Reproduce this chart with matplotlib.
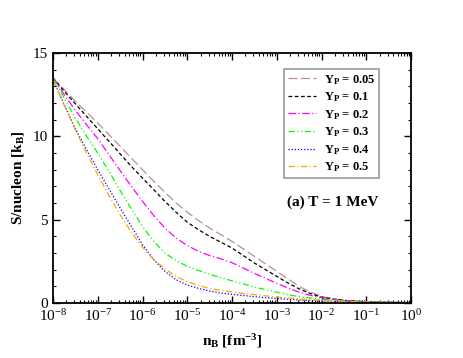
import matplotlib
matplotlib.use('Agg')
import matplotlib.pyplot as plt
from matplotlib.ticker import LogLocator, MultipleLocator, NullFormatter

# baryon density grid [fm^-3], quarter decades
n_B = [1e-8, 1.78e-8, 3.16e-8, 5.62e-8,
       1e-7, 1.78e-7, 3.16e-7, 5.62e-7,
       1e-6, 1.78e-6, 3.16e-6, 5.62e-6,
       1e-5, 1.78e-5, 3.16e-5, 5.62e-5,
       1e-4, 1.78e-4, 3.16e-4, 5.62e-4,
       1e-3, 1.78e-3, 3.16e-3, 5.62e-3,
       1e-2, 1.78e-2, 3.16e-2, 5.62e-2,
       1e-1, 1.78e-1, 3.16e-1, 5.62e-1, 1.0]

# entropy per nucleon [k_B] for each proton fraction
s_005 = [13.5, 12.8, 12.1, 11.45, 10.8, 10.1, 9.4, 8.7, 8.0, 7.3, 6.65, 6.0,
         5.45, 4.95, 4.5, 4.1, 3.7, 3.25, 2.8, 2.35, 1.9, 1.45, 1.0, 0.65,
         0.4, 0.26, 0.17, 0.12, 0.08, 0.06, 0.04, 0.03, 0.02]
s_01 = [13.5, 12.7, 11.95, 11.2, 10.45, 9.7, 8.95, 8.2, 7.5, 6.8, 6.1, 5.45,
        4.85, 4.4, 4.0, 3.65, 3.3, 2.85, 2.4, 2.0, 1.6, 1.2, 0.85, 0.57,
        0.35, 0.24, 0.16, 0.11, 0.08, 0.06, 0.04, 0.03, 0.02]
s_02 = [13.5, 12.5, 11.55, 10.7, 9.85, 8.9, 7.95, 7.0, 6.1, 5.25, 4.5, 3.9,
        3.45, 3.1, 2.85, 2.65, 2.42, 2.1, 1.78, 1.48, 1.18, 0.9, 0.65, 0.46,
        0.32, 0.22, 0.15, 0.1, 0.07, 0.05, 0.04, 0.03, 0.02]
s_03 = [13.5, 12.3, 11.1, 10.0, 9.0, 7.9, 6.75, 5.65, 4.6, 3.7, 3.0, 2.55,
        2.2, 1.95, 1.72, 1.52, 1.33, 1.15, 0.97, 0.8, 0.65, 0.5, 0.38, 0.3,
        0.23, 0.17, 0.13, 0.09, 0.07, 0.05, 0.04, 0.03, 0.02]
s_04 = [13.4, 11.9, 10.45, 9.2, 8.0, 6.85, 5.7, 4.6, 3.5, 2.6, 1.9, 1.4,
        1.08, 0.88, 0.72, 0.6, 0.52, 0.45, 0.38, 0.32, 0.27, 0.22, 0.18, 0.15,
        0.12, 0.1, 0.08, 0.06, 0.05, 0.04, 0.03, 0.025, 0.02]
s_05 = [13.4, 11.85, 10.4, 9.0, 7.7, 6.45, 5.3, 4.25, 3.35, 2.6, 2.05, 1.6,
        1.28, 1.05, 0.88, 0.76, 0.66, 0.58, 0.5, 0.43, 0.36, 0.3, 0.25, 0.2,
        0.16, 0.12, 0.1, 0.08, 0.06, 0.05, 0.04, 0.03, 0.02]

yp_labels = ['0.05', '0.1', '0.2', '0.3', '0.4', '0.5']

plt.rcParams['font.family'] = ['Liberation Serif', 'DejaVu Serif']
plt.rcParams['mathtext.fontset'] = 'custom'
plt.rcParams['mathtext.rm'] = 'Liberation Serif'
plt.rcParams['mathtext.bf'] = 'Liberation Serif:bold'
plt.rcParams['mathtext.it'] = 'Liberation Serif:italic'

fig = plt.figure(figsize=(4.63, 3.58), dpi=100)
ax = fig.add_axes([0.1145, 0.1536, 0.7732, 0.6984])

series = [s_005, s_01, s_02, s_03, s_04, s_05]
colors = ['#bc8f8f', 'black', '#ff00ff', '#00ff00', '#0000ff', '#ffa500']
dashes = [(7, 3), (3, 2), (6, 2, 1, 2), (5, 2, 1, 2, 1, 2), (1, 1.5), (5, 2, 1, 2)]

for s, c, d, lab in zip(series, colors, dashes, yp_labels):
    ax.plot(n_B, s, color=c, lw=0.9, dashes=d,
            label=r'Y$_{\mathbf{P}}$ = ' + lab)

ax.set_xscale('log')
ax.set_xlim(1e-8, 1)
ax.set_ylim(0, 15)
ax.xaxis.set_major_locator(LogLocator(base=10, numticks=20))
ax.xaxis.set_minor_locator(LogLocator(base=10, subs=range(2, 10), numticks=20))
ax.xaxis.set_minor_formatter(NullFormatter())
ax.yaxis.set_major_locator(MultipleLocator(5))
ax.yaxis.set_minor_locator(MultipleLocator(1))

ax.tick_params(which='both', direction='in', top=True, right=True, labelsize=11)
ax.tick_params(which='major', length=5, width=1)
ax.tick_params(which='minor', length=2.5, width=0.8)
for sp in ax.spines.values():
    sp.set_linewidth(1.3)

ax.set_xlabel(r'n$_{\mathbf{B}}$ [fm$^{\mathbf{-3}}$]', fontsize=11, fontweight='bold', labelpad=6)
ax.set_ylabel(r'S/nucleon [k$_{\mathbf{B}}$]', fontsize=11, fontweight='bold', labelpad=5)

leg = ax.legend(loc='upper right', bbox_to_anchor=(0.911, 0.936), borderaxespad=0,
                fancybox=False, prop={'weight': 'bold', 'size': 9},
                handlelength=2.25, handletextpad=0.65, labelspacing=0.3,
                borderpad=0.3)
leg.get_frame().set_edgecolor('#808080')
leg.get_frame().set_linewidth(1.2)

ax.text(0.654, 0.39, '(a) T = 1 MeV', transform=ax.transAxes,
        fontsize=11, fontweight='bold', ha='left', va='baseline')

fig.savefig('out.png', dpi=100)
